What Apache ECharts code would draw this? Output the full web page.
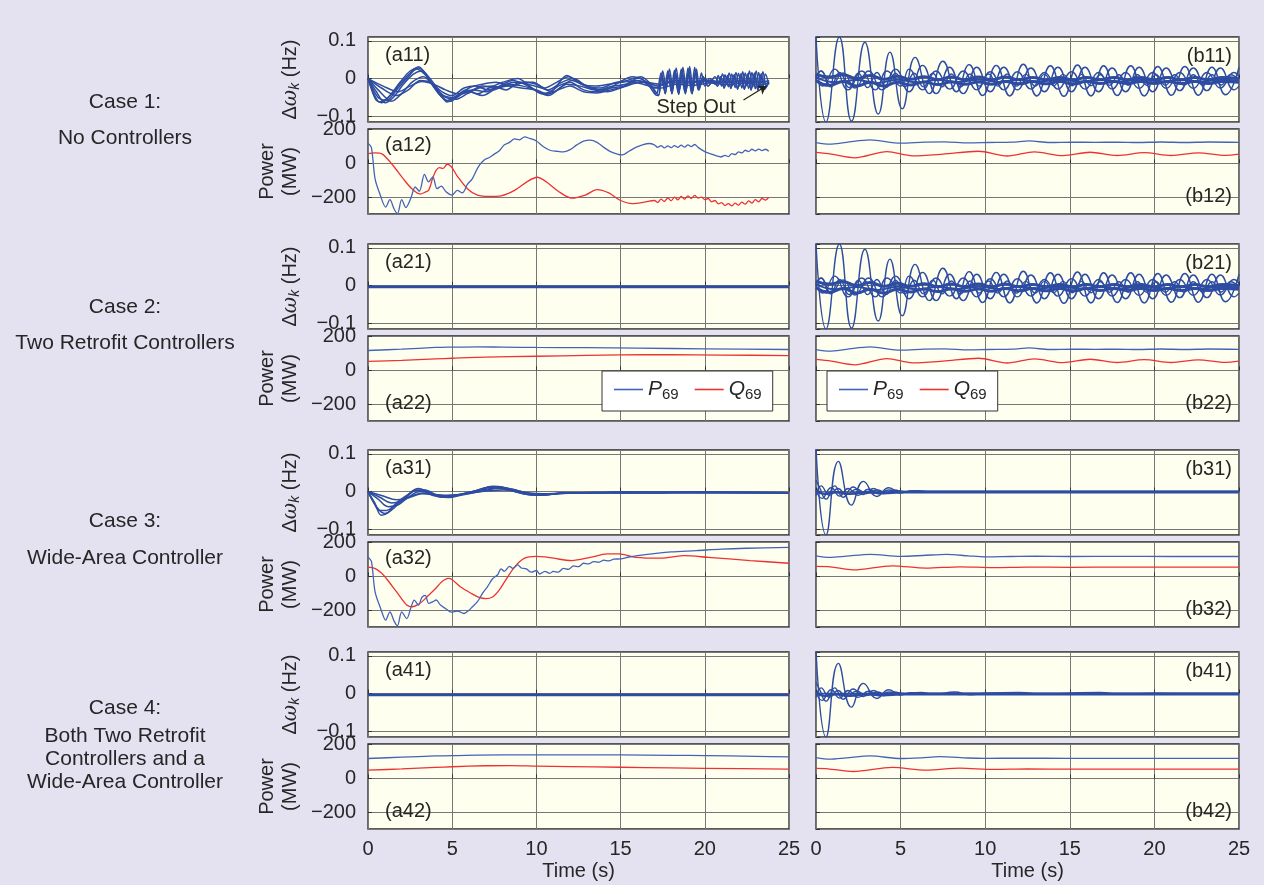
<!DOCTYPE html>
<html><head><meta charset="utf-8">
<script src="https://cdn.jsdelivr.net/npm/echarts@6/dist/echarts.min.js"></script>
<style>html,body{margin:0;padding:0;background:#E4E1F0;}#c{width:1264px;height:885px;}</style>
</head><body><div id="c"></div>
<script>
// ---------- tick labels / categories ----------
const timeTicks = [0, 5, 10, 15, 20, 25];
const omegaTicks = [-0.1, 0, 0.1];
const powerTicks = [-200, 0, 200];
const caseLabels = [
  ["Case 1:", "No Controllers"],
  ["Case 2:", "Two Retrofit Controllers"],
  ["Case 3:", "Wide-Area Controller"],
  ["Case 4:", "Both Two Retrofit", "Controllers and a", "Wide-Area Controller"]
];
const panelTags = [["(a11)","(a12)","(b11)","(b12)"],["(a21)","(a22)","(b21)","(b22)"],["(a31)","(a32)","(b31)","(b32)"],["(a41)","(a42)","(b41)","(b42)"]];
const stepOutArrow = [[22.3, -0.057], [23.65, -0.02]];

// ---------- Case 1, left: frequency deviations (Hz) ----------
const a11_hf1 = [[17.2,-0.035],[17.4,0.015],[17.6,-0.03],[17.8,0.02],[18.0,-0.032],[18.2,0.022],[18.4,-0.035],[18.6,0.025],[18.8,-0.035],[19.0,0.028],[19.2,-0.038],[19.4,0.03],[19.6,-0.03],[19.8,0.015],[20.0,-0.02],[20.3,0.0],[20.6,-0.015],[20.8,0.008],[21.0,-0.02],[21.2,0.01],[21.4,-0.022],[21.6,0.012],[21.8,-0.024],[22.0,0.014],[22.2,-0.025],[22.4,0.015],[22.6,-0.026],[22.8,0.016],[23.0,-0.027],[23.2,0.016],[23.4,-0.028],[23.6,0.012],[23.8,-0.015]];
const a11_hf2 = [[17.25,-0.045],[17.45,0.01],[17.65,-0.04],[17.85,0.015],[18.05,-0.04],[18.25,0.018],[18.45,-0.042],[18.65,0.02],[18.85,-0.04],[19.05,0.022],[19.25,-0.04],[19.45,0.02],[19.65,-0.03],[19.9,0.005],[20.2,-0.02],[20.5,-0.005],[20.75,-0.02],[20.95,0.005],[21.15,-0.025],[21.35,0.008],[21.55,-0.026],[21.75,0.01],[21.95,-0.028],[22.15,0.012],[22.35,-0.028],[22.55,0.012],[22.75,-0.03],[22.95,0.014],[23.15,-0.03],[23.35,0.012],[23.55,-0.028],[23.8,-0.01]];
const a11_hf3 = [[17.3,-0.02],[17.5,0.02],[17.7,-0.025],[17.9,0.025],[18.1,-0.025],[18.3,0.028],[18.5,-0.028],[18.7,0.03],[18.9,-0.03],[19.1,0.032],[19.3,-0.03],[19.5,0.025],[19.7,-0.02],[20.0,0.0],[20.3,-0.01],[20.6,0.005],[20.85,-0.012],[21.05,0.012],[21.25,-0.015],[21.45,0.015],[21.65,-0.018],[21.85,0.016],[22.05,-0.02],[22.25,0.018],[22.45,-0.02],[22.65,0.02],[22.85,-0.022],[23.05,0.02],[23.25,-0.022],[23.45,0.018],[23.65,-0.02],[23.8,-0.005]];
const a11_w1 = [[0,0],[0.35,-0.04],[0.7,-0.062],[1.2,-0.05],[1.8,-0.02],[2.4,0.01],[3.0,0.031],[3.6,0.0],[4.2,-0.04],[4.7,-0.058],[5.3,-0.045],[6.0,-0.035],[6.8,-0.02],[7.6,-0.025],[8.4,-0.015],[9.2,-0.02],[10.0,-0.03],[10.6,-0.04],[11.3,-0.02],[12.0,-0.01],[12.8,-0.03],[13.6,-0.035],[14.4,-0.025],[15.2,-0.02],[16.0,-0.005],[16.6,-0.015],[17.0,-0.03]];
const a11_w2 = [[0,0],[0.5,-0.035],[1.0,-0.064],[1.5,-0.05],[2.1,-0.015],[2.7,0.012],[3.2,0.02],[3.7,-0.01],[4.4,-0.05],[4.9,-0.06],[5.5,-0.04],[6.2,-0.03],[7.0,-0.035],[7.8,-0.02],[8.6,-0.005],[9.3,-0.015],[10.1,-0.035],[10.7,-0.045],[11.4,-0.025],[12.1,-0.005],[12.9,-0.02],[13.7,-0.03],[14.5,-0.02],[15.3,-0.015],[16.1,0.002],[16.7,-0.02],[17.05,-0.042]];
const a11_w3 = [[0,0],[0.6,-0.03],[1.4,-0.06],[2.0,-0.04],[2.6,-0.01],[3.3,0.005],[3.9,-0.02],[4.5,-0.045],[5.1,-0.05],[5.8,-0.03],[6.5,-0.04],[7.2,-0.025],[8.0,-0.01],[8.9,0.0],[9.6,-0.02],[10.3,-0.04],[11.0,-0.03],[11.8,0.008],[12.5,-0.01],[13.3,-0.025],[14.1,-0.03],[14.9,-0.01],[15.7,0.005],[16.4,-0.005],[17.0,-0.025]];
const a11_w4 = [[0,0],[0.8,-0.025],[1.7,-0.045],[2.4,-0.03],[3.1,-0.005],[3.7,-0.01],[4.4,-0.035],[5.0,-0.045],[5.7,-0.025],[6.4,-0.02],[7.1,-0.03],[7.9,-0.02],[8.7,-0.01],[9.5,-0.015],[10.3,-0.025],[11.0,-0.035],[11.8,-0.015],[12.6,-0.02],[13.4,-0.03],[14.2,-0.035],[15.0,-0.025],[15.8,-0.01],[16.5,-0.01],[17.2,-0.02],[18,-0.01],[19,-0.012],[20,-0.008],[21,-0.01],[22,-0.008],[23,-0.01],[23.8,-0.008]];
const a11_w5 = [[0,0],[0.6,-0.05],[1.1,-0.058],[1.7,-0.03],[2.3,0.0],[2.9,0.025],[3.5,0.005],[4.1,-0.03],[4.6,-0.05],[5.2,-0.055],[5.9,-0.04],[6.6,-0.025],[7.4,-0.02],[8.2,-0.03],[9.0,-0.01],[9.8,-0.01],[10.5,-0.025],[11.2,-0.01],[11.9,0.005],[12.7,-0.015],[13.5,-0.02],[14.3,-0.015],[15.1,-0.01],[15.9,-0.005],[16.6,-0.01],[17.3,-0.015],[18.2,-0.005],[19.2,-0.008],[20.2,-0.005],[21.2,-0.01],[22.2,-0.006],[23.2,-0.01],[23.8,-0.006]];
const a11_w6 = [[0,0],[0.9,-0.02],[1.8,-0.035],[2.5,-0.02],[3.2,-0.008],[3.9,-0.015],[4.6,-0.03],[5.3,-0.04],[6.0,-0.035],[6.8,-0.045],[7.5,-0.03],[8.3,-0.02],[9.1,-0.025],[9.9,-0.03],[10.6,-0.042],[11.3,-0.03],[12.0,-0.02],[12.8,-0.035],[13.6,-0.038],[14.4,-0.03],[15.2,-0.022],[16.0,-0.012],[16.7,-0.02],[17.4,-0.025],[18.3,-0.015],[19.3,-0.018],[20.3,-0.012],[21.3,-0.016],[22.3,-0.012],[23.3,-0.016],[23.8,-0.012]];
const a11_w7 = [[0,0],[0.45,-0.055],[0.8,-0.064],[1.3,-0.045],[1.9,-0.01],[2.5,0.02],[3.0,0.028],[3.5,0.01],[4.1,-0.025],[4.7,-0.062],[5.3,-0.05],[6.0,-0.025],[6.8,-0.015],[7.6,-0.01],[8.5,-0.02],[9.3,-0.01],[10.0,-0.015],[10.7,-0.03],[11.5,-0.01],[12.2,0.0],[13.0,-0.02],[13.8,-0.025],[14.6,-0.012],[15.4,-0.005],[16.2,0.005],[16.8,-0.015],[17.1,-0.04]];

// ---------- Case 1, left: line power (MW) ----------
const a12_P = [[0,120],[0.2,95],[0.42,-92],[0.7,-180],[1.05,-259],[1.3,-215],[1.55,-270],[1.75,-298],[2.0,-215],[2.25,-262],[2.55,-205],[2.8,-140],[3.05,-165],[3.35,-65],[3.6,-110],[3.85,-80],[4.1,-150],[4.35,-135],[4.65,-170],[5.0,-188],[5.3,-160],[5.6,-175],[5.9,-125],[6.2,-90],[6.55,-20],[6.9,20],[7.2,35],[7.5,55],[7.8,75],[8.1,110],[8.4,125],[8.7,145],[9.0,140],[9.3,157],[9.6,148],[10.0,133],[10.4,100],[10.8,78],[11.2,72],[11.6,68],[12.0,82],[12.4,110],[12.8,132],[13.2,138],[13.6,125],[14.0,95],[14.4,70],[14.8,55],[15.1,50],[15.5,72],[15.9,95],[16.3,110],[16.7,118],[17.0,110],[17.2,95],[17.4,105],[17.6,92],[17.8,104],[18.0,93],[18.2,106],[18.4,95],[18.6,108],[18.8,96],[19.0,110],[19.2,100],[19.4,112],[19.6,95],[19.8,82],[20.1,65],[20.4,55],[20.7,45],[20.95,38],[21.2,48],[21.4,40],[21.6,58],[21.8,52],[22.0,68],[22.2,62],[22.4,78],[22.6,70],[22.8,84],[23.0,75],[23.2,85],[23.4,76],[23.6,84],[23.8,72]];
const a12_Q = [[0,58],[0.4,62],[0.85,55],[1.5,-14],[2.1,-92],[2.6,-150],[3.1,-182],[3.4,-170],[3.6,-160],[3.85,-85],[4.05,-40],[4.25,-25],[4.45,-30],[4.7,-5],[4.95,-20],[5.3,-75],[5.9,-150],[6.5,-188],[7.2,-196],[7.9,-192],[8.7,-160],[9.5,-105],[10.05,-82],[10.6,-110],[11.3,-165],[12.1,-206],[12.9,-188],[13.6,-155],[14.3,-175],[15.0,-220],[15.7,-238],[16.4,-230],[17.0,-220],[17.2,-232],[17.4,-212],[17.6,-226],[17.8,-205],[18.0,-222],[18.2,-200],[18.4,-216],[18.6,-196],[18.8,-212],[19.0,-192],[19.2,-208],[19.4,-190],[19.6,-205],[19.8,-200],[20.0,-215],[20.2,-208],[20.4,-228],[20.6,-220],[20.8,-240],[21.0,-232],[21.2,-250],[21.4,-238],[21.6,-252],[21.8,-236],[22.0,-248],[22.2,-230],[22.4,-242],[22.6,-222],[22.8,-236],[23.0,-215],[23.2,-228],[23.4,-208],[23.6,-218],[23.8,-200]];

// ---------- Right column (cases 1 & 2): frequency deviations ----------
const b11_w1 = [[0,0.11],[0.59,-0.115],[1.38,0.11],[2.1,-0.113],[2.89,0.096],[3.68,-0.094],[4.37,0.07],[5.1,-0.08],[5.86,0.056],[6.7,-0.04],[7.5,0.046],[8.3,-0.035],[9.05,0.037],[9.85,-0.045],[10.65,0.035],[11.45,-0.046],[12.25,0.038],[13.05,-0.046],[13.85,0.034],[14.65,-0.047],[15.45,0.036],[16.25,-0.046],[17.0,0.034],[17.8,-0.045],[18.6,0.034],[19.4,-0.046],[20.2,0.032],[21.0,-0.044],[21.8,0.032],[22.6,-0.044],[23.4,0.03],[24.2,-0.043],[25,0.03]];
const b11_w2 = [[0,0.005],[0.3,0.02],[0.9,-0.02],[1.6,0.015],[2.3,-0.025],[3.1,0.02],[3.9,-0.03],[4.7,0.025],[5.5,-0.035],[6.3,0.035],[7.1,-0.04],[7.9,0.03],[8.7,-0.04],[9.5,0.03],[10.3,-0.035],[11.1,0.03],[11.9,-0.03],[12.7,0.028],[13.5,-0.035],[14.3,0.03],[15.1,-0.035],[15.9,0.03],[16.7,-0.035],[17.5,0.028],[18.3,-0.035],[19.1,0.03],[19.9,-0.035],[20.7,0.028],[21.5,-0.032],[22.3,0.028],[23.1,-0.032],[23.9,0.028],[24.7,-0.03],[25,-0.02]];
const b11_w3 = [[0,0.0],[0.3,0.02],[0.85,-0.022],[1.4,0.016],[1.95,-0.024],[2.5,0.014],[3.05,-0.024],[3.6,0.016],[4.15,-0.024],[4.7,0.014],[5.25,-0.022],[5.8,0.014],[6.35,-0.022],[6.9,0.014],[7.45,-0.022],[8.0,0.012],[8.55,-0.022],[9.1,0.012],[9.65,-0.02],[10.2,0.012],[10.75,-0.02],[11.3,0.012],[11.85,-0.02],[12.4,0.011],[12.95,-0.02],[13.5,0.011],[14.05,-0.019],[14.6,0.011],[15.15,-0.019],[15.7,0.011],[16.25,-0.019],[16.8,0.01],[17.35,-0.018],[17.9,0.01],[18.45,-0.018],[19.0,0.01],[19.55,-0.018],[20.1,0.01],[20.65,-0.018],[21.2,0.01],[21.75,-0.018],[22.3,0.01],[22.85,-0.017],[23.4,0.01],[23.95,-0.017],[24.5,0.01],[25,-0.005]];
const b11_w4 = [[0,0.012],[0.8,0.004],[1.6,0.01],[2.4,0.0],[3.2,0.008],[4.0,-0.002],[4.8,0.006],[5.6,-0.002],[6.4,0.005],[7.2,-0.003],[8.0,0.004],[8.8,-0.003],[9.6,0.004],[10.4,-0.003],[11.2,0.004],[12,-0.003],[12.8,0.003],[13.6,-0.003],[14.4,0.003],[15.2,-0.003],[16,0.003],[16.8,-0.003],[17.6,0.003],[18.4,-0.003],[19.2,0.003],[20,-0.003],[20.8,0.003],[21.6,-0.003],[22.4,0.003],[23.2,-0.003],[24,0.003],[25,0]];
const b11_w5 = [[0,-0.005],[0.8,-0.018],[1.6,-0.008],[2.4,-0.02],[3.2,-0.01],[4.0,-0.02],[4.8,-0.01],[5.6,-0.017],[6.4,-0.009],[7.2,-0.016],[8.0,-0.009],[8.8,-0.015],[9.6,-0.009],[10.4,-0.015],[11.2,-0.008],[12,-0.014],[12.8,-0.008],[13.6,-0.014],[14.4,-0.008],[15.2,-0.014],[16,-0.008],[16.8,-0.013],[17.6,-0.008],[18.4,-0.013],[19.2,-0.008],[20,-0.013],[20.8,-0.008],[21.6,-0.013],[22.4,-0.008],[23.2,-0.013],[24,-0.008],[25,-0.01]];
const b11_w6 = [[0,0.0],[0.4,-0.02],[1.1,0.025],[1.9,-0.03],[2.7,0.02],[3.5,-0.03],[4.2,0.02],[5.0,-0.02],[5.5,0.025],[6.3,-0.03],[7.1,0.02],[7.9,-0.028],[8.7,0.02],[9.5,-0.03],[10.3,0.018],[11.1,-0.03],[11.9,0.018],[12.7,-0.028],[13.5,0.016],[14.3,-0.028],[15.1,0.018],[15.9,-0.028],[16.7,0.016],[17.5,-0.028],[18.3,0.016],[19.1,-0.026],[19.9,0.016],[20.7,-0.026],[21.5,0.016],[22.3,-0.026],[23.1,0.016],[23.9,-0.025],[24.7,0.016],[25,0.005]];
const b11_w7 = [[0,0.004],[1.2,-0.01],[2.4,-0.004],[3.6,-0.012],[4.8,-0.003],[6,-0.01],[7.2,-0.004],[8.4,-0.009],[9.6,-0.003],[10.8,-0.009],[12,-0.003],[13.2,-0.008],[14.4,-0.003],[15.6,-0.008],[16.8,-0.003],[18,-0.008],[19.2,-0.003],[20.4,-0.008],[21.6,-0.003],[22.8,-0.008],[24,-0.003],[25,-0.005]];
// ---------- Right column (cases 1 & 2): power ----------
const b12_P = [[0,123],[0.8,114],[1.8,125],[3.2,139],[5.0,120],[6.4,126],[7.6,128],[9.0,122],[10.2,124],[11.6,126],[12.6,133],[13.8,124],[15.2,126],[16.5,125],[17.8,126],[19,124],[20.4,127],[21.8,124],[23.2,127],[25,125]];
const b12_Q = [[0,65],[0.9,55],[2.3,33],[4.2,70],[5.7,45],[7.5,55],[9.6,72],[11.3,44],[12.9,68],[14.6,46],[16.2,66],[17.8,47],[19.4,64],[21.0,47],[22.6,63],[24.2,48],[25,55]];

// ---------- Cases 2 & 4, left: frequency (flat) ----------
const a21_w1 = [[0,-0.002],[25,-0.002]];
const a21_w2 = [[0,-0.005],[25,-0.005]];
// ---------- Case 2, left: power ----------
const a22_P = [[0,118],[2,126],[4,136],[5,138],[6.5,140],[8,138],[10,136],[13,135],[16,132],[20,128],[25,124]];
const a22_Q = [[0,53],[2,60],[4,68],[5,72],[7,79],[10,84],[13,89],[15,92],[18,93],[21,91],[25,88]];

// ---------- Case 3, left ----------
const a31_w1 = [[0,0],[0.4,-0.03],[0.8,-0.063],[1.2,-0.055],[1.7,-0.03],[2.3,-0.01],[3.0,0.008],[3.6,-0.002],[4.3,-0.012],[5.0,-0.01],[5.8,-0.005],[6.6,0.005],[7.4,0.014],[8.0,0.012],[8.7,0.0],[9.5,-0.008],[10.3,-0.01],[11.2,-0.006],[12.2,-0.004],[13.5,-0.002],[15,-0.004],[17,-0.002],[20,-0.003],[25,-0.003]];
const a31_w2 = [[0,0],[0.5,-0.04],[1.0,-0.058],[1.5,-0.045],[2.1,-0.02],[2.8,0.002],[3.4,0.004],[4.0,-0.01],[4.7,-0.014],[5.4,-0.008],[6.2,0.0],[7.0,0.01],[7.7,0.012],[8.4,0.004],[9.2,-0.006],[10.0,-0.01],[10.9,-0.007],[11.8,-0.003],[13,-0.004],[14.5,-0.002],[16.5,-0.004],[19,-0.002],[22,-0.003],[25,-0.003]];
const a31_w3 = [[0,0],[0.6,-0.02],[1.2,-0.04],[1.8,-0.035],[2.4,-0.015],[3.1,0.0],[3.7,-0.005],[4.4,-0.015],[5.1,-0.012],[5.9,-0.004],[6.7,0.004],[7.5,0.008],[8.2,0.006],[9.0,-0.002],[9.8,-0.008],[10.6,-0.008],[11.5,-0.004],[12.5,-0.003],[14,-0.003],[15.2,-0.001],[17,-0.003],[20,-0.002],[25,-0.003]];
const a31_w4 = [[0,0],[0.7,-0.015],[1.4,-0.03],[2.0,-0.025],[2.7,-0.01],[3.3,-0.004],[4.0,-0.012],[4.8,-0.016],[5.5,-0.01],[6.3,-0.003],[7.1,0.004],[7.9,0.01],[8.6,0.006],[9.4,-0.004],[10.2,-0.009],[11.0,-0.006],[12,-0.004],[13.4,-0.003],[15,-0.002],[18,-0.003],[21,-0.002],[25,-0.003]];
const a31_w5 = [[0,0],[0.3,-0.025],[0.7,-0.05],[1.1,-0.05],[1.6,-0.035],[2.2,-0.018],[2.9,0.004],[3.5,0.002],[4.2,-0.01],[4.9,-0.012],[5.7,-0.006],[6.5,0.002],[7.3,0.012],[8.1,0.01],[8.9,0.002],[9.7,-0.006],[10.5,-0.008],[11.4,-0.005],[12.5,-0.003],[14,-0.003],[16,-0.002],[20,-0.003],[25,-0.003]];
const a31_w6 = [[0,0],[0.9,-0.012],[1.7,-0.022],[2.5,-0.015],[3.2,-0.006],[4.0,-0.008],[4.8,-0.01],[5.6,-0.007],[6.4,-0.002],[7.2,0.002],[8.0,0.004],[8.8,0.002],[9.6,-0.004],[10.4,-0.006],[11.5,-0.004],[13,-0.003],[15,-0.003],[18,-0.002],[25,-0.003]];
const a32_P = [[0,114],[0.2,90],[0.42,-92],[0.75,-190],[1.05,-259],[1.3,-210],[1.55,-265],[1.75,-292],[2.0,-210],[2.3,-250],[2.55,-185],[2.75,-141],[3.0,-170],[3.2,-125],[3.4,-112],[3.6,-160],[3.85,-150],[4.05,-140],[4.3,-170],[4.6,-190],[4.95,-212],[5.3,-205],[5.7,-220],[6.0,-200],[6.2,-180],[6.5,-150],[6.8,-100],[7.1,-60],[7.4,-14],[7.7,10],[7.9,45],[8.1,30],[8.4,60],[8.6,48],[8.9,68],[9.1,50],[9.4,45],[9.7,25],[10.0,35],[10.2,14],[10.5,30],[10.8,18],[11.0,30],[11.3,25],[11.6,48],[11.9,42],[12.2,62],[12.5,58],[12.8,78],[13.1,74],[13.4,88],[13.7,84],[14.0,96],[14.3,92],[14.6,102],[15.0,104],[15.5,115],[16,123],[17,135],[18,145],[19.5,153],[21,162],[22.5,167],[25,172]];
const a32_Q = [[0,55],[0.4,48],[0.8,20],[1.1,-14],[1.7,-92],[2.3,-170],[2.65,-180],[3.0,-165],[3.2,-151],[3.6,-112],[4.0,-73],[4.3,-40],[4.55,-20],[4.8,-12],[5.0,-20],[5.5,-63],[6.15,-102],[6.6,-125],[7.0,-132],[7.4,-122],[7.8,-80],[8.1,-34],[8.7,55],[9.3,108],[9.97,119],[10.5,116],[11.0,108],[12.1,94],[13.2,113],[14.2,133],[14.9,134],[15.9,113],[17.4,108],[18.8,123],[20.2,113],[22.7,94],[25,78]];

// ---------- Cases 3 & 4, right ----------
const b31_w1 = [[0,0.115],[0.59,-0.115],[1.32,0.08],[2.1,-0.036],[2.8,0.027],[3.6,-0.013],[4.3,0.01],[5.0,-0.004],[5.7,0.002],[6.5,0],[25,0]];
const b31_w2 = [[0,0.03],[0.2,0.012],[0.6,-0.02],[1.1,0.015],[1.6,-0.015],[2.2,0.012],[2.8,-0.008],[3.4,0.008],[4.0,-0.006],[4.6,0.004],[5.3,-0.002],[6.0,0.002],[6.8,0],[25,0]];
const b31_w3 = [[0,0.005],[0.35,-0.018],[0.9,0.01],[1.4,-0.012],[1.9,0.008],[2.5,-0.01],[3.1,0.006],[3.7,-0.006],[4.3,0.004],[4.9,-0.003],[5.5,0.001],[6.2,0],[25,0]];
const b31_w4 = [[0,-0.01],[0.3,0.015],[0.8,-0.01],[1.3,0.008],[1.8,-0.008],[2.4,0.006],[3.0,-0.005],[3.6,0.004],[4.2,-0.003],[4.8,0.002],[5.5,0],[25,0]];
const b31_w5 = [[0,0.002],[0.5,-0.006],[1.2,-0.002],[2.0,-0.006],[3.0,-0.002],[4.0,-0.004],[5.0,-0.002],[25,-0.002]];
const b41_w6 = [[0,0],[5,0],[6.2,0.003],[7,-0.002],[8.2,0.004],[9.1,-0.003],[10,0.001],[12,0.003],[13.5,-0.002],[15,0.001],[16.8,0.003],[18,-0.002],[20,0.001],[22,0],[25,0]];
const b32_P = [[0,122],[0.8,113],[1.8,120],[3.2,131],[5.0,119],[6.3,124],[7.7,131],[9.0,122],[10.0,116],[11.5,118],[13,120],[15,118],[18,119],[21,118],[25,118]];
const b32_Q = [[0,59],[0.7,58],[2.2,39],[4.5,63],[6.5,49],[8.5,57],[10.5,52],[12.5,55],[15,54],[18,55],[25,55]];
const a42_P = [[0,118],[2,126],[4,133],[5,135],[8,139],[10,139],[13,140],[15,139],[18,137],[20,135],[23,131],[25,128]];
const a42_Q = [[0,49],[2,56],[4,65],[5,69],[7,75],[8.5,76],[10,73],[12,70],[15,66],[18,62],[20,60],[25,55]];
const b42_P = [[0,123],[0.8,114],[1.8,122],[3.2,133],[5.0,118],[6.2,122],[7.3,129],[9.0,121],[10.0,119],[12,120],[15,119],[20,119],[25,119]];
const b42_Q = [[0,59],[0.7,57],[2.2,41],[4.5,65],[6.5,49],[8.5,61],[10.5,53],[12.5,56],[15,55],[20,55],[25,55]];

// ---------- layout & styles ----------
const FONT = "'Liberation Sans', Arial, Helvetica, sans-serif";
const TXT = '#262626';
const W_BLUE = '#2D4CA2', P_BLUE = '#4463B8', Q_RED = '#EE3131';
const colX = [368, 816], colW = [421, 423];
const caseTop = [37, 244, 450, 652];
const OMEGA_H = 85, POWER_OFF = 92, POWER_H = 85;
const FS = 20;

const grids = [], xAxes = [], yAxes = [], series = [];
function gi(c, col, r) { return c * 4 + col * 2 + r; }
const fmtNum = v => (v < 0 ? '\u2212' + Math.abs(v) : String(v));

for (let c = 0; c < 4; c++) {
  for (let col = 0; col < 2; col++) {
    for (let r = 0; r < 2; r++) {
      const top = r === 0 ? caseTop[c] : caseTop[c] + POWER_OFF;
      const h = r === 0 ? OMEGA_H : POWER_H;
      grids.push({ left: colX[col], top: top, width: colW[col], height: h, show: true,
        backgroundColor: '#FFFFF0', borderColor: '#262626', borderWidth: 1.3, containLabel: false });
      const idx = grids.length - 1;
      const bottomRow = (c === 3 && r === 1);
      xAxes.push({ type: 'value', gridIndex: idx, min: 0, max: 25, interval: 5,
        axisLine: { show: false },
        axisTick: { show: true, inside: true, length: 4, lineStyle: { color: '#333' } },
        splitLine: { show: true, lineStyle: { color: '#777', width: 1 } },
        axisLabel: { show: bottomRow, margin: 10, fontSize: FS, color: TXT, fontFamily: FONT,
          formatter: v => (timeTicks.indexOf(v) >= 0 ? String(v) : '') },
        name: bottomRow ? 'Time (s)' : '', nameLocation: 'middle', nameGap: 32,
        nameTextStyle: { fontSize: FS, color: TXT, fontFamily: FONT } });
      const ticks = r === 0 ? omegaTicks : powerTicks;
      const yCommon = { type: 'value', gridIndex: idx,
        axisLine: { show: false },
        axisTick: { show: true, inside: true, length: 4, lineStyle: { color: '#333' } },
        splitLine: { show: true, lineStyle: { color: '#777', width: 1 } },
        axisLabel: { show: col === 0, margin: 12, fontSize: FS, color: TXT, fontFamily: FONT,
          showMinLabel: false, showMaxLabel: false,
          formatter: v => { const t = ticks.find(t => Math.abs(t - v) < 1e-9); return t === undefined ? '' : fmtNum(t); } },
        nameLocation: 'middle', nameRotate: 90, nameGap: 66 };
      if (r === 0) {
        yAxes.push(Object.assign(yCommon, { min: -0.115, max: 0.11, splitNumber: 2, minInterval: 0.1, maxInterval: 0.1,
          name: col === 0 ? '{n|\u0394}{w|\u03C9}{k|k}{n| (Hz)}' : '',
          nameTextStyle: { fontSize: FS, color: TXT, fontFamily: FONT,
            rich: { n: { fontSize: FS, color: TXT, fontFamily: FONT },
                    w: { fontSize: FS, color: TXT, fontFamily: 'DejaVu Serif, serif', fontStyle: 'italic' },
                    k: { fontSize: 14, color: TXT, fontFamily: FONT, fontStyle: 'italic', padding: [9, 0, 0, 0] } } } }));
      } else {
        yAxes.push(Object.assign(yCommon, { min: -300, max: 204, splitNumber: 2, minInterval: 200, maxInterval: 200,
          name: col === 0 ? 'Power\n(MW)' : '',
          nameTextStyle: { fontSize: FS, lineHeight: 23, color: TXT, fontFamily: FONT } }));
      }
    }
  }
}

function addLine(idx, data, color, width, name, smooth) {
  series.push({ type: 'line', name: name, xAxisIndex: idx, yAxisIndex: idx, data: data,
    symbol: 'none', showSymbol: false, smooth: smooth, animation: false, silent: true,
    lineStyle: { color: color, width: width }, itemStyle: { color: color }, z: 3 });
  return series[series.length - 1];
}
function addOmega(idx, list, width, smooth) { list.forEach(d => addLine(idx, d, W_BLUE, width, 'w', smooth)); }
function addPower(idx, P, Q) { addLine(idx, Q, Q_RED, 1.3, 'Q69', 0.3); addLine(idx, P, P_BLUE, 1.3, 'P69', 0.3); }

// Case 1
addOmega(gi(0,0,0), [a11_w4, a11_w5, a11_w6, a11_w3.concat(a11_hf3), a11_w2.concat(a11_hf2), a11_w7.concat(a11_hf1), a11_w1.concat(a11_hf2)], 1.5, 0.3);
const arrowHost = addLine(gi(0,0,0), [], W_BLUE, 1, 'w', false);
arrowHost.markLine = { silent: true, symbol: ['none', 'arrow'], symbolSize: 8, animation: false,
  lineStyle: { color: '#222', width: 1.2, type: 'solid' }, label: { show: false },
  data: [[{ coord: stepOutArrow[0] }, { coord: stepOutArrow[1] }]] };
addPower(gi(0,0,1), a12_P, a12_Q);
function addB1(idx) {
  addOmega(idx, [b11_w4, b11_w5], 3, 0.5);
  addOmega(idx, [b11_w7], 2, 0.5);
  addOmega(idx, [b11_w3, b11_w6, b11_w2, b11_w1], 1.4, 0.5);
}
addB1(gi(0,1,0));
addPower(gi(0,1,1), b12_P, b12_Q);
// Case 2
addOmega(gi(1,0,0), [a21_w1, a21_w2], 1.8, false);
addPower(gi(1,0,1), a22_P, a22_Q);
addB1(gi(1,1,0));
addPower(gi(1,1,1), b12_P, b12_Q);
// Case 3
addOmega(gi(2,0,0), [a31_w6, a31_w4, a31_w3, a31_w2, a31_w5, a31_w1], 1.5, 0.4);
addPower(gi(2,0,1), a32_P, a32_Q);
addOmega(gi(2,1,0), [b31_w5], 2.6, 0.5);
addOmega(gi(2,1,0), [b31_w4, b31_w3, b31_w2, b31_w1], 1.4, 0.5);
addPower(gi(2,1,1), b32_P, b32_Q);
// Case 4
addOmega(gi(3,0,0), [a21_w1, a21_w2], 1.8, false);
addPower(gi(3,0,1), a42_P, a42_Q);
addOmega(gi(3,1,0), [b31_w5], 2.6, 0.5);
addOmega(gi(3,1,0), [b41_w6, b31_w4, b31_w3, b31_w2, b31_w1], 1.4, 0.5);
addPower(gi(3,1,1), b42_P, b42_Q);

// ---------- text annotations ----------
const graphics = [];
function txt(x, y, s, align, size) {
  graphics.push({ type: 'text', x: x, y: y, silent: true, z: 100,
    style: { text: s, font: (size || FS) + 'px ' + FONT, fill: TXT,
      align: align, verticalAlign: 'middle', textAlign: align, textVerticalAlign: 'middle' } });
}
const caseLabelY = [[102, 138], [307, 343], [521, 558], [708, 736, 759, 782]];
caseLabels.forEach((lines, c) => lines.forEach((s, k) => txt(125, caseLabelY[c][k], s, 'center', 21)));
for (let c = 0; c < 4; c++) {
  const T = caseTop[c], PT = T + POWER_OFF;
  txt(385, T + 18, panelTags[c][0], 'left');
  if (c === 0 || c === 2) txt(385, PT + 16, panelTags[c][1], 'left');
  else txt(385, PT + 67, panelTags[c][1], 'left');
  txt(1232, T + 19, panelTags[c][2], 'right');
  txt(1232, PT + 67, panelTags[c][3], 'right');
}
txt(696, 107, 'Step Out', 'center', 20);

const legendCommon = { orient: 'horizontal', selectedMode: false, data: ['P69', 'Q69'],
  backgroundColor: '#ffffff', borderColor: '#333', borderWidth: 1, borderRadius: 0,
  icon: 'rect', itemWidth: 29, itemHeight: 1.6, itemGap: 16, padding: [8, 11, 9, 12],
  formatter: n => (n === 'P69' ? '{i|P}{s|69}' : '{i|Q}{s|69}'),
  textStyle: { color: TXT, fontFamily: FONT, fontSize: FS,
    rich: { i: { fontSize: 21, fontStyle: 'italic', fontFamily: FONT, color: TXT },
            s: { fontSize: 15, fontFamily: FONT, color: TXT, padding: [10, 0, 0, 0] } } } };

const option = {
  backgroundColor: '#E4E1F0',
  animation: false,
  grid: grids, xAxis: xAxes, yAxis: yAxes, series: series,
  legend: [Object.assign({}, legendCommon, { left: 602, top: 371 }),
           Object.assign({}, legendCommon, { left: 827, top: 371 })],
  graphic: graphics
};
const chart = echarts.init(document.getElementById('c'), null, { renderer: 'canvas' });
chart.setOption(option);
</script></body></html>
